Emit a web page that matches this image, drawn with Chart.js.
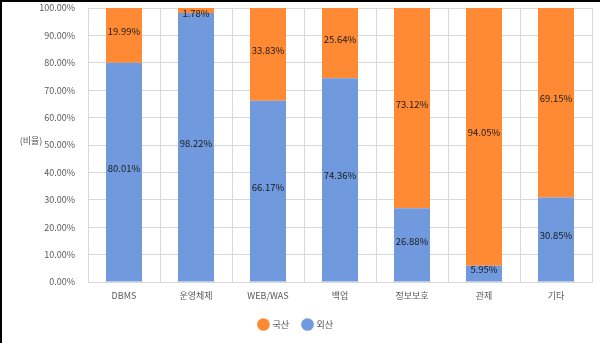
<!DOCTYPE html>
<html><head><meta charset="utf-8">
<script src="https://cdn.jsdelivr.net/npm/chart.js@4/dist/chart.umd.min.js"></script>
<style>html,body{margin:0;padding:0;background:#fff;}canvas{display:block;}</style>
</head><body>
<canvas id="c" width="600" height="343"></canvas>
<script>
const categories = ['DBMS','운영체제','WEB/WAS','백업','정보보호','관제','기타'];
const domestic = [19.99, 1.78, 33.83, 25.64, 73.12, 94.05, 69.15];
const foreign = [80.01, 98.22, 66.17, 74.36, 26.88, 5.95, 30.85];
const seriesNames = ['국산','외산'];
const yAxisTitle = '(비율)';
const FONT = "'Noto Sans CJK KR', 'Noto Sans', sans-serif";

const labelPlugin = {
  id: 'labels',
  afterDatasetsDraw(chart) {
    const ctx = chart.ctx;
    ctx.save();
    ctx.font = '9.5px ' + FONT;
    ctx.fillStyle = '#1a1a1a';
    ctx.textAlign = 'center';
    ctx.textBaseline = 'middle';
    chart.data.datasets.forEach((ds, di) => {
      const meta = chart.getDatasetMeta(di);
      meta.data.forEach((bar, i) => {
        const top = Math.min(bar.y, bar.base), bot = Math.max(bar.y, bar.base);
        let y = (top + bot) / 2 - 4;
        y = Math.max(y, chart.chartArea.top + 5);
        ctx.fillText(ds.data[i].toFixed(2) + '%', bar.x, y);
      });
    });
    ctx.restore();
  }
};
const framePlugin = {
  id: 'frame',
  afterDraw(chart) {
    const ctx = chart.ctx;
    ctx.save();
    ctx.fillStyle = '#000';
    ctx.fillRect(0, 0, 2, chart.height);
    ctx.fillRect(0, 0, chart.width, 2);
    ctx.font = '9px ' + FONT;
    ctx.fillStyle = '#595959';
    ctx.textAlign = 'center';
    ctx.textBaseline = 'middle';
    ctx.fillText(yAxisTitle, 31, 141);
    ctx.restore();
  }
};

new Chart(document.getElementById('c'), {
  type: 'bar',
  data: {
    labels: categories,
    datasets: [
      { label: seriesNames[0], data: domestic, backgroundColor: '#ff8a33', borderWidth: 0, categoryPercentage: 1, barPercentage: 0.5, order: 2 },
      { label: seriesNames[1], data: foreign, backgroundColor: '#7099de', borderWidth: 0, categoryPercentage: 1, barPercentage: 0.5, order: 1 }
    ]
  },
  options: {
    responsive: false,
    animation: false,
    layout: { padding: { top: 8, right: 8, left: 0, bottom: 4 } },
    plugins: {
      legend: {
        position: 'bottom',
        labels: { usePointStyle: true, pointStyle: 'circle', boxWidth: 10, boxHeight: 10, padding: 14, color: '#595959', font: { family: FONT, size: 9 },
          sort: (a, b) => a.datasetIndex - b.datasetIndex }
      },
      tooltip: { enabled: false }
    },
    scales: {
      x: {
        stacked: true,
        grid: { color: '#d9d9d9', drawTicks: false, offset: true },
        border: { color: '#d9d9d9' },
        ticks: { color: '#595959', padding: 8, font: { family: FONT, size: 9 } },
        afterFit(s) { s.height = 24; }
      },
      y: {
        stacked: true,
        min: 0, max: 100,
        grid: { color: '#d9d9d9', drawTicks: false },
        border: { color: '#d9d9d9' },
        ticks: { stepSize: 10, color: '#595959', padding: 13, font: { family: FONT, size: 9 }, callback: v => v.toFixed(2) + '%' },
        afterFit(s) { s.width = 88; s.paddingTop = 0; s.paddingBottom = 0; }
      }
    }
  },
  plugins: [labelPlugin, framePlugin]
});
</script>
</body></html>
